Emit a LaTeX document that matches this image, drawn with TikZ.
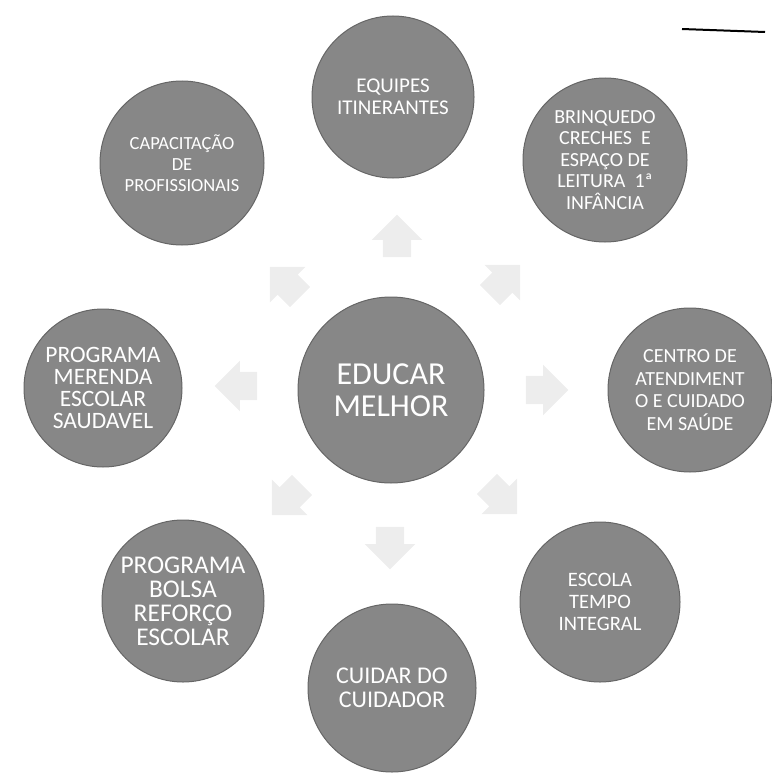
\documentclass[tikz,border=0pt]{standalone}
\usepackage{fontspec}
\setmainfont{Carlito}
\usetikzlibrary{shapes.arrows}

\begin{document}
\begin{tikzpicture}[x=1pt, y=-1pt,
  bubble/.style={circle, fill=black!47, draw=black!60, line width=1pt, text=white, align=center, inner sep=0pt},
  spoke/.style={single arrow, fill=black!7, inner xsep=14pt, inner ysep=14pt, single arrow head extend=11pt, single arrow tip angle=90}]
\useasboundingbox (0,0) rectangle (771,776);
% Central circle
\node[bubble, minimum size=186pt, font=\fontsize{32}{32}\selectfont] (educar) at (391,390) {EDUCAR\\MELHOR};
% Outer circles
\node[bubble, minimum size=162pt, font=\fontsize{21}{22}\selectfont] (equipes) at (393,97) {EQUIPES\\ITINERANTES};
\node[bubble, minimum size=164pt, font=\fontsize{20}{21.5}\selectfont] (brinquedo) at (605,160) {BRINQUEDO\\CRECHES~~E\\ESPAÇO DE\\LEITURA~~1ª\\INFÂNCIA};
\node[bubble, minimum size=164pt, font=\fontsize{20}{22.5}\selectfont] (centro) at (690,390) {CENTRO DE\\ATENDIMENT\\O E CUIDADO\\EM SAÚDE};
\node[bubble, minimum size=160pt, font=\fontsize{20.5}{22}\selectfont] (escola) at (600,602) {ESCOLA\\TEMPO\\INTEGRAL};
\node[bubble, minimum size=168pt, font=\fontsize{24}{24}\selectfont] (cuidar) at (392,688) {CUIDAR DO\\CUIDADOR};
\node[bubble, minimum size=162pt, font=\fontsize{25.5}{24}\selectfont] (bolsa) at (183,601) {PROGRAMA\\BOLSA\\REFORÇO\\ESCOLAR};
\node[bubble, minimum size=158pt, font=\fontsize{23.5}{22}\selectfont] (merenda) at (103,388) {PROGRAMA\\MERENDA\\ESCOLAR\\SAUDAVEL};
\node[bubble, minimum size=164pt, font=\fontsize{18.5}{21}\selectfont] (capacitacao) at (182,163) {CAPACITAÇÃO\\DE\\PROFISSIONAIS};
% Faint arrows pointing outward
\node[spoke, rotate=90] (arrow-n) at (397,243) {};
\node[spoke, rotate=45] (arrow-ne) at (500,285) {};
\node[spoke, rotate=0] (arrow-e) at (540,390) {};
\node[spoke, rotate=-45] (arrow-se) at (497,494) {};
\node[spoke, rotate=-90] (arrow-s) at (390,541) {};
\node[spoke, rotate=-135] (arrow-sw) at (292,495) {};
\node[spoke, rotate=180] (arrow-w) at (243,386) {};
\node[spoke, rotate=135] (arrow-nw) at (290,287) {};
% Stray pen mark, top right
\draw[line width=2pt] (682,29) -- (765,32);
\end{tikzpicture}
\end{document}
